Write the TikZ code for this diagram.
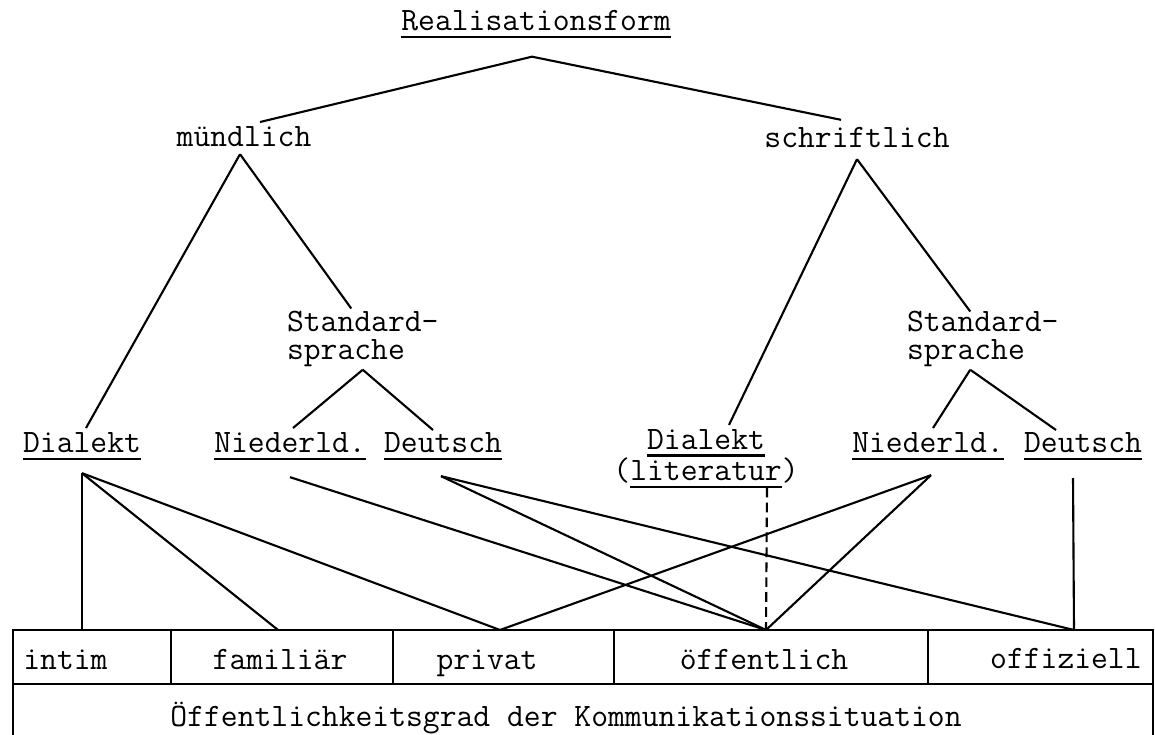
\documentclass[tikz,border=0pt]{standalone}
\usepackage{fontspec}
\newcommand{\tw}{\fontsize{18.6}{16}\selectfont\ttfamily}
\newcommand{\ulined}[1]{\setbox0=\hbox{#1}\rlap{\vrule height -2.6pt depth 3.8pt width \wd0}\box0}
\tikzset{
  lbl/.style={font=\tw, inner sep=0pt, outer sep=0pt, anchor=base},
  cellbox/.style={draw, line width=1.1pt, minimum height=10.8mm, inner sep=0pt, outer sep=0pt},
  celltext/.style={font=\tw, inner sep=0pt, anchor=base},
  edge/.style={line width=1.2pt},
  dashedge/.style={line width=1.2pt, dash pattern=on 5.5pt off 3pt},
  frame/.style={line width=1.1pt}
}

\begin{document}
\begin{tikzpicture}
  \useasboundingbox (0,0) rectangle (23.1,14.7);

  % tree labels
  \node[lbl] (title) at (10.72,14.08) {\ulined{Realisationsform}};
  \node[lbl] (mund) at (4.88,11.76) {mündlich};
  \node[lbl] (schrift) at (17.14,11.74) {schriftlich};
  \node[lbl, anchor=base west, align=left] (std1) at (5.74,7.50) {Standard-\\sprache};
  \node[lbl, anchor=base west, align=left] (std2) at (18.14,7.50) {Standard-\\sprache};
  \node[lbl] (dial1) at (1.64,5.64) {\ulined{Dialekt}};
  \node[lbl] (nied1) at (5.80,5.64) {\ulined{Niederld.}};
  \node[lbl] (deut1) at (8.86,5.64) {\ulined{Deutsch}};
  \node[lbl, align=center] (diallit) at (14.12,5.08) {\ulined{Dialekt}\\(\ulined{literatur})};
  \node[lbl] (nied2) at (18.56,5.64) {\ulined{Niederld.}};
  \node[lbl] (deut2) at (21.66,5.64) {\ulined{Deutsch}};

  % situation scale
  \node[cellbox, minimum width=31.6mm] (intim) at (1.84,1.56) {};
  \node[cellbox, minimum width=44.4mm] (famil) at (5.64,1.56) {};
  \node[cellbox, minimum width=44.2mm] (priv) at (10.07,1.56) {};
  \node[cellbox, minimum width=62.8mm] (oeff) at (15.42,1.56) {};
  \node[cellbox, minimum width=45mm] (offiz) at (20.81,1.56) {};
  \node[celltext, anchor=base west] (tintim) at (0.46,1.30) {intim};
  \node[celltext] (tfamil) at (5.60,1.30) {familiär};
  \node[celltext] (tpriv) at (9.74,1.30) {privat};
  \node[celltext] (toeff) at (15.28,1.30) {öffentlich};
  \node[celltext, anchor=base east] (toffiz) at (22.84,1.32) {offiziell};
  \node[celltext] (grad) at (11.32,0.16) {Öffentlichkeitsgrad der Kommunikationssituation};
  \draw[frame] (intim.south west) -- ++(0,-1.02);
  \draw[frame] (offiz.south east) -- ++(0,-1.02);

  % branch points
  \coordinate (titlefoot) at ([xshift=-.08cm,yshift=-.38cm]title.south);
  \coordinate (mundfoot) at ([xshift=-.08cm,yshift=-.14cm]mund.south);
  \coordinate (schriftfoot) at ([yshift=-.22cm]schrift.south);
  \coordinate (std1foot) at ([yshift=-.05cm]std1.south);
  \coordinate (std2foot) at ([xshift=-.25cm,yshift=-.05cm]std2.south);
  \coordinate (dial1foot) at ([yshift=-.27cm]dial1.south);
  \coordinate (nied1foot) at ([yshift=-.35cm]nied1.south);
  \coordinate (deut1foot) at ([xshift=-.04cm,yshift=-.33cm]deut1.south);
  \coordinate (nied2foot) at ([xshift=.06cm,yshift=-.31cm]nied2.south);
  \coordinate (deut2foot) at ([xshift=-.2cm,yshift=-.37cm]deut2.south);
  \coordinate (litfoot) at ([xshift=1.22cm]diallit.south);
  \coordinate (jintim) at ([xshift=-.2cm]intim.north);
  \coordinate (jfamil) at ([xshift=-.08cm]famil.north);
  \coordinate (jpriv) at ([xshift=-.07cm]priv.north);
  \coordinate (joeff) at ([xshift=-.1cm]oeff.north);
  \coordinate (joffiz) at ([xshift=.67cm]offiz.north);

  % tree
  \draw[edge] (titlefoot) -- ([xshift=.32cm,yshift=.1cm]mund.north);
  \draw[edge] (titlefoot) -- ([xshift=-.32cm,yshift=.16cm]schrift.north);
  \draw[edge] (mundfoot) -- ([xshift=.08cm,yshift=.1cm]dial1.north);
  \draw[edge] (mundfoot) -- ([xshift=-.23cm,yshift=.06cm]std1.north);
  \draw[edge] (schriftfoot) -- ([xshift=.46cm,yshift=.1cm]diallit.north);
  \draw[edge] (schriftfoot) -- ([xshift=-.25cm]std2.north);
  \draw[edge] (std1foot) -- ([xshift=.06cm,yshift=.1cm]nied1.north);
  \draw[edge] (std1foot) -- ([xshift=-.2cm,yshift=.06cm]deut1.north);
  \draw[edge] (std2foot) -- ([xshift=.1cm,yshift=.1cm]nied2.north);
  \draw[edge] (std2foot) -- ([xshift=-.54cm,yshift=.06cm]deut2.north);

  % links to the scale
  \draw[edge] (dial1foot) -- (jintim);
  \draw[edge] (dial1foot) -- (jfamil);
  \draw[edge] (dial1foot) -- (jpriv);
  \draw[edge] (nied1foot) -- (joeff);
  \draw[edge] (deut1foot) -- (joeff);
  \draw[edge] (deut1foot) -- (joffiz);
  \draw[edge] (nied2foot) -- (jpriv);
  \draw[edge] (nied2foot) -- (joeff);
  \draw[edge] (deut2foot) -- (joffiz);
  \draw[dashedge] (litfoot) -- (joeff);
\end{tikzpicture}
\end{document}
